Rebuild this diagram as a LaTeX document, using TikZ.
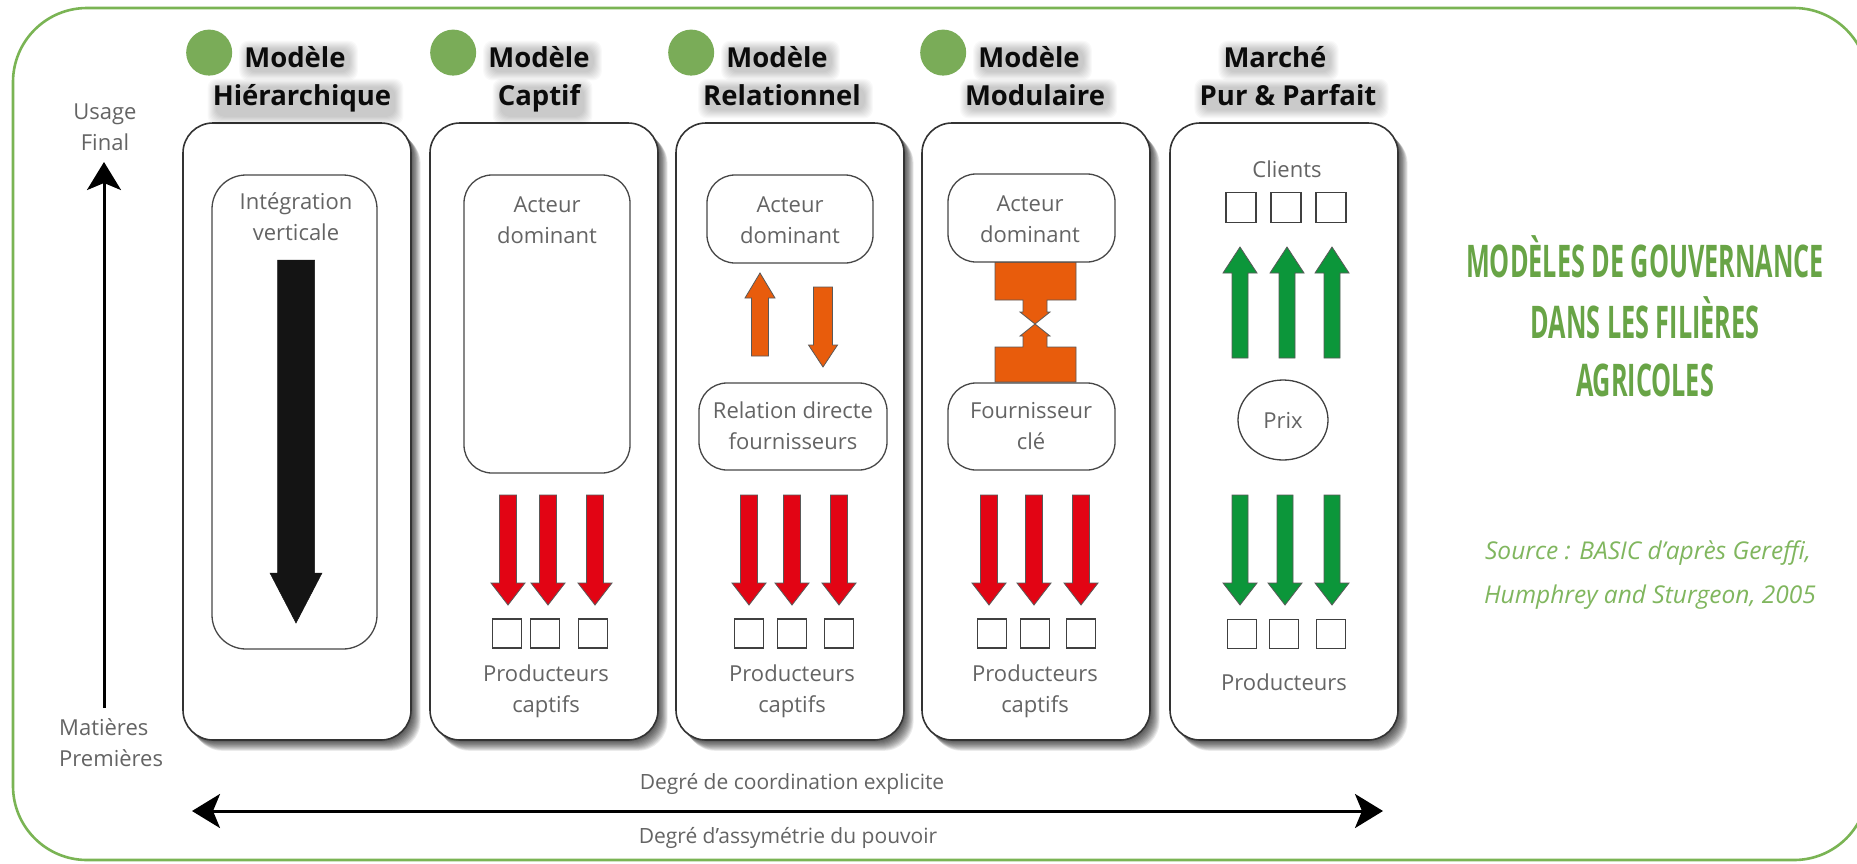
\documentclass[tikz,border=0pt]{standalone}
\usepackage{fontspec}
\setmainfont{Open Sans}
\usepackage{graphicx}
\usetikzlibrary{arrows.meta,shapes.geometric}
\definecolor{framegreen}{RGB}{122,180,84}
\definecolor{dotgreen}{RGB}{122,172,88}
\definecolor{ttlgreen}{RGB}{104,164,70}
\definecolor{srcgreen}{RGB}{128,182,94}
\definecolor{arrred}{RGB}{226,4,20}
\definecolor{arrgreen}{RGB}{12,150,58}
\definecolor{arrorange}{RGB}{232,92,12}
\definecolor{lblgray}{RGB}{100,100,100}
\newcommand\barrow[7]{\filldraw[#7] ({#1-#5},#2) -- ({#1+#5},#2) -- ({#1+#5},#3) -- ({#1+#6},#3) -- (#1,#4) -- ({#1-#6},#3) -- ({#1-#5},#3) -- cycle;}
\newcommand\colshadow[4]{\foreach \i in {1,...,12}{\fill[black,opacity=0.08,rounded corners=30] ({#1+\i*0.8},{#2+\i*0.9}) rectangle ({#3+\i*0.8},{#4+\i*0.9});}}
\newcommand\haze[1]{\foreach \i in {0,...,8}{\fill[black,opacity=0.022,rounded corners=9] ([shift={({3-\i},{3-\i})}]#1.north west) rectangle ([shift={({4+\i},{5+\i})}]#1.south east);}}
\tikzset{
  colbox/.style={draw=black!80, line width=1.6pt, fill=white, rounded corners=30, minimum width=228, minimum height=617, inner sep=0},
  inbox/.style={draw=black!72, line width=1.3pt, fill=white, rounded corners=28, inner sep=0},
  lbl/.style={text=lblgray, font=\fontsize{22}{31}\selectfont, align=center, inner sep=0},
  ttl/.style={text=black!92, font=\fontsize{27.5}{30}\selectfont\bfseries, inner sep=0, anchor=base},
  sq/.style={draw=black!75, line width=1.5pt, fill=white, minimum size=29, inner sep=0},
  redarr/.style={fill=arrred, draw=black!65, line width=0.8pt},
  grnarr/.style={fill=arrgreen, draw=black!65, line width=0.8pt},
  orarr/.style={fill=arrorange, draw=black!65, line width=0.8pt},
  blkarr/.style={fill=black!92, draw=black!92, line width=0.5pt},
  axis/.style={line width=3pt, draw=black},
  bigttl/.style={text=ttlgreen, font=\fontsize{45}{50}\selectfont\bfseries, inner sep=0},
  src/.style={text=srcgreen, font=\fontsize{24.5}{30}\selectfont\itshape, inner sep=0}
}
\begin{document}
\begin{tikzpicture}[x=1pt,y=-1pt]
\useasboundingbox (0,0) rectangle (1857,863);
\fill[white] (0,0) rectangle (1857,863);
\draw[framegreen, line width=2.6pt, rounded corners=74] (13,8) rectangle (1868,860);

% column shadows
\foreach \L in {183,430,676,922,1170}{\colshadow{\L}{123}{\L+228}{740}}
% columns
\node[colbox] (col1) at (297,431.5) {};
\node[colbox] (col2) at (544,431.5) {};
\node[colbox] (col3) at (790,431.5) {};
\node[colbox] (col4) at (1036,431.5) {};
\node[colbox] (col5) at (1284,431.5) {};

% titles
\node[ttl] (t1a) at (295,67) {Modèle};
\node[ttl] (t1b) at (302,105) {Hiérarchique};
\node[ttl] (t2a) at (539,67) {Modèle};
\node[ttl] (t2b) at (539,105) {Captif};
\node[ttl] (t3a) at (777,67) {Modèle};
\node[ttl] (t3b) at (782,105) {Relationnel};
\node[ttl] (t4a) at (1029,67) {Modèle};
\node[ttl] (t4b) at (1035,105) {Modulaire};
\node[ttl] (t5a) at (1275,67) {Marché};
\node[ttl] (t5b) at (1288,105) {Pur \& Parfait};
\foreach \n in {t1a,t1b,t2a,t2b,t3a,t3b,t4a,t4b,t5a,t5b}{\haze{\n}}
\foreach \n in {t1a,t2a,t3a,t4a}{\fill[dotgreen] (\n.west) ++(-35,-4) circle (23);}

% column 1
\node[inbox, minimum width=165, minimum height=474, rounded corners=34] (iv) at (294.5,412) {};
\node[lbl] (ivt) at (296,217) {Intégration\\verticale};
\barrow{296}{260}{573}{623}{18.5}{26}{blkarr}

% column 2
\node[inbox, minimum width=166, minimum height=298] (ad2) at (547,324) {};
\node[lbl] (ad2t) at (547,220) {Acteur\\dominant};
\barrow{508}{495}{583}{605}{8.5}{17}{redarr}
\barrow{548}{495}{583}{605}{8.5}{17}{redarr}
\barrow{595}{495}{583}{605}{8.5}{17}{redarr}
\node[sq] (s21) at (507,633.5) {};
\node[sq] (s22) at (545,633.5) {};
\node[sq] (s23) at (593,633.5) {};
\node[lbl] (p2) at (546,691) {Producteurs\\captifs};

% column 3
\node[inbox, minimum width=166, minimum height=88] (ad3) at (790,219) {};
\node[lbl] (ad3t) at (790,220) {Acteur\\dominant};
\barrow{760}{356}{298}{273}{8.5}{15}{orarr}
\barrow{823}{287}{345}{367}{9.5}{14.5}{orarr}
\node[inbox, minimum width=188, minimum height=87] (rd3) at (793,426.5) {};
\node[lbl] (rd3t) at (793,426) {Relation directe\\fournisseurs};
\barrow{749}{495}{583}{605}{8.5}{17}{redarr}
\barrow{792}{495}{583}{605}{8.5}{17}{redarr}
\barrow{839}{495}{583}{605}{8.5}{17}{redarr}
\node[sq] (s31) at (749,633.5) {};
\node[sq] (s32) at (792,633.5) {};
\node[sq] (s33) at (839,633.5) {};
\node[lbl] (p3) at (792,691) {Producteurs\\captifs};

% column 4
\filldraw[orarr] (995,262) -- (1076,262) -- (1076,300) -- (1047,300) -- (1047,312) -- (1050,312) -- (1035,324) -- (1050,336) -- (1047,336) -- (1047,347) -- (1076,347) -- (1076,382) -- (995,382) -- (995,347) -- (1023,347) -- (1023,336) -- (1020,336) -- (1035,324) -- (1020,312) -- (1023,312) -- (1023,300) -- (995,300) -- cycle;
\node[inbox, minimum width=167, minimum height=88] (ad4) at (1031.5,218) {};
\node[lbl] (ad4t) at (1030,219) {Acteur\\dominant};
\node[inbox, minimum width=167, minimum height=87] (fc4) at (1031.5,426.5) {};
\node[lbl] (fc4t) at (1031,426) {Fournisseur\\clé};
\barrow{989}{495}{583}{605}{8.5}{17}{redarr}
\barrow{1034}{495}{583}{605}{8.5}{17}{redarr}
\barrow{1081}{495}{583}{605}{8.5}{17}{redarr}
\node[sq] (s41) at (992,633.5) {};
\node[sq] (s42) at (1035,633.5) {};
\node[sq] (s43) at (1081,633.5) {};
\node[lbl] (p4) at (1035,691) {Producteurs\\captifs};

% column 5
\node[lbl] (cl) at (1287,169) {Clients};
\node[sq, minimum size=30] (c51) at (1241,207.5) {};
\node[sq, minimum size=30] (c52) at (1286,207.5) {};
\node[sq, minimum size=30] (c53) at (1331,207.5) {};
\barrow{1240}{358}{273}{247}{8}{17}{grnarr}
\barrow{1287}{358}{273}{247}{8}{17}{grnarr}
\barrow{1332}{358}{273}{247}{8}{17}{grnarr}
\node[draw=black!75, line width=1.3pt, ellipse, minimum width=90, minimum height=80, inner sep=0, lbl] (prix) at (1283,420) {Prix};
\barrow{1240}{495}{583}{605}{8}{17}{grnarr}
\barrow{1285}{495}{583}{605}{8}{17}{grnarr}
\barrow{1332}{495}{583}{605}{8}{17}{grnarr}
\node[sq] (s51) at (1242,634) {};
\node[sq] (s52) at (1284,634) {};
\node[sq] (s53) at (1331,634) {};
\node[lbl] (p5) at (1284,682) {Producteurs};

% left axis
\node[lbl] (usage) at (105,127) {Usage\\Final};
\node[lbl, align=left, anchor=west] (mat) at (59,743) {Matières\\Premières};
\coordinate (vbot) at (104,708);
\coordinate (vtop) at (104,162);
\draw[axis, -{Stealth[length=28pt,width=34pt,inset=7pt]}] (vbot) -- (vtop);

% bottom axis
\coordinate (hl) at (192,811);
\coordinate (hr) at (1383,811);
\draw[axis, {Stealth[length=28pt,width=34pt,inset=7pt]}-{Stealth[length=28pt,width=34pt,inset=7pt]}] (hl) -- (hr);
\node[lbl, font=\fontsize{21}{28}\selectfont] (coord) at (792,784) {Degré de coordination explicite};
\node[lbl, font=\fontsize{21}{28}\selectfont] (asym) at (788,838) {Degré d’assymétrie du pouvoir};

% right title
\node[bigttl] (bt1) at (1645,257) {\scalebox{0.56}[1]{MODÈLES DE GOUVERNANCE}};
\node[bigttl] (bt2) at (1645,318) {\scalebox{0.56}[1]{DANS LES FILIÈRES}};
\node[bigttl] (bt3) at (1645,380) {\scalebox{0.56}[1]{AGRICOLES}};
\node[src] (sr1) at (1648,553) {Source : BASIC d’après Gereffi,};
\node[src] (sr2) at (1650,597) {Humphrey and Sturgeon, 2005};
\end{tikzpicture}
\end{document}
